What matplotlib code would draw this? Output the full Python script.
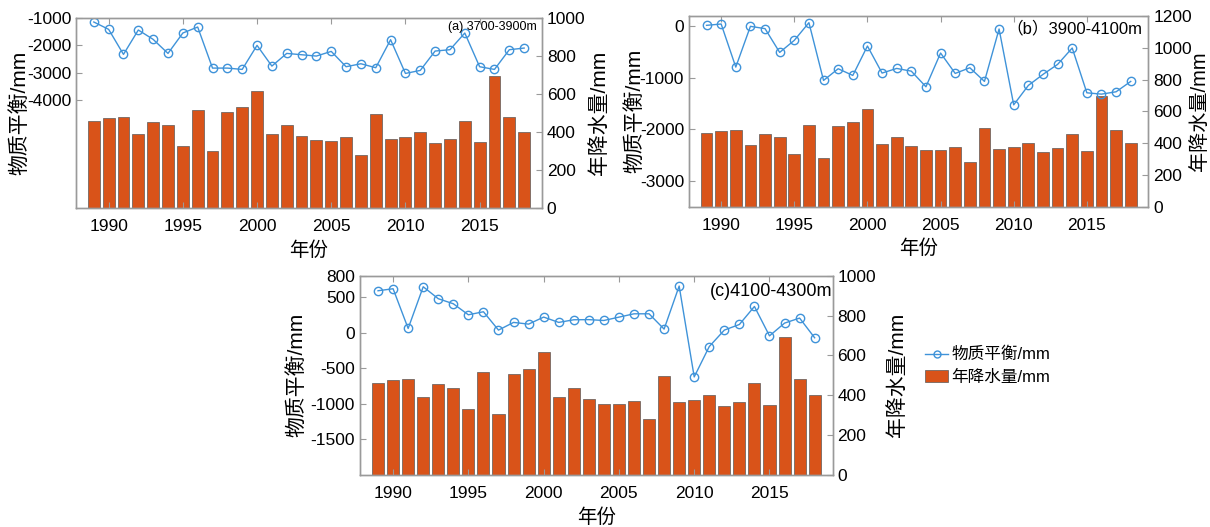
import matplotlib
matplotlib.use("Agg")
import matplotlib.pyplot as plt
from matplotlib.lines import Line2D
from matplotlib.patches import Patch

plt.rcParams['font.family'] = ['Liberation Sans', 'Noto Sans CJK SC', 'DejaVu Sans']
plt.rcParams['axes.unicode_minus'] = False

years = list(range(1989, 2019))

# annual precipitation (mm)
precip = [461, 477, 482, 389, 456, 436, 329, 517, 304, 508,
          531, 617, 393, 439, 380, 357, 356, 373, 281, 495,
          365, 377, 401, 344, 367, 460, 349, 694, 481, 401]

# mass balance (mm) for each elevation band
mb_a = [-1135, -1406, -2328, -1430, -1775, -2292, -1541, -1320, -2833, -2833,
        -2882, -1996, -2759, -2292, -2341, -2390, -2218, -2783, -2673, -2820,
        -1787, -3030, -2919, -2205, -2156, -1541, -2783, -2882, -2156, -2095]
mb_b = [19, 45, -791, 0, -45, -506, -272, 71, -1050, -823,
        -953, -382, -907, -817, -870, -1173, -518, -914, -804, -1069,
        -52, -1523, -1147, -933, -739, -421, -1290, -1316, -1270, -1069]
mb_c = [589, 617, 59, 645, 477, 406, 251, 294, 36, 144,
        120, 219, 144, 181, 183, 171, 218, 265, 265, 50,
        655, -622, -195, 36, 115, 368, -45, 134, 205, -72]

labels_a = "(a) 3700-3900m"
labels_b = "（b）3900-4100m"
labels_c = "(c)4100-4300m"

xticks = [1990, 1995, 2000, 2005, 2010, 2015]

BAR = '#d95319'
LINE = '#3f93d9'
SPINE = '#9a9a9a'

fig = plt.figure(figsize=(12.10, 5.27), dpi=100)


def panel(rect, mb, ylim_l, yticks_l, ylim_r, yticks_r, label, lab_xy, lab_fs,
          lpad=-3, rpad=-3, right_label=True):
    ax = fig.add_axes(rect)
    ax2 = ax.twinx()
    ax2.bar(years, precip, width=0.8, color=BAR, edgecolor='#5a5a5a', linewidth=0.5)
    ax.plot(years, mb, '-o', color=LINE, lw=1.0, ms=6, mfc='none', mec=LINE, mew=1.0)
    ax.set_zorder(ax2.get_zorder() + 1)
    ax.patch.set_visible(False)

    ax.set_xlim(1987.8, 2019.2)
    ax.set_xticks(xticks)
    ax.set_ylim(*ylim_l)
    ax.set_yticks(yticks_l)
    ax2.set_ylim(*ylim_r)
    ax2.set_yticks(yticks_r)

    for a in (ax, ax2):
        for s in a.spines.values():
            s.set_color(SPINE)
            s.set_linewidth(1.0)
    ax.tick_params(axis='x', direction='in', top=True, length=4, color=SPINE,
                   labelsize=12.5, pad=8)
    ax.tick_params(axis='y', direction='in', length=4, color=SPINE, labelsize=12.5)
    ax2.tick_params(axis='y', direction='in', length=4, color=SPINE, labelsize=12.5)

    ax.set_xlabel('年份', fontsize=14, labelpad=5)
    ax.set_ylabel('物质平衡/mm', fontsize=15, labelpad=lpad)
    if right_label:
        ax2.set_ylabel('年降水量/mm', fontsize=15, labelpad=rpad)
    ax.text(lab_xy[0], lab_xy[1], label, transform=ax.transAxes, ha='right',
            va='center', fontsize=lab_fs, clip_on=False)
    return ax


panel([0.0628, 0.6047, 0.3851, 0.3605], mb_a, (-8000, -1000),
      [-4000, -3000, -2000, -1000], (0, 1000), range(0, 1001, 200),
      labels_a, (0.989, 0.954), 9, lpad=-2, rpad=3)
ax_b = panel([0.5694, 0.6078, 0.3796, 0.3618], mb_b, (-3500, 200),
             [-3000, -2000, -1000, 0], (0, 1200), range(0, 1201, 200),
             labels_b, (0.988, 0.937), 12, lpad=-3, right_label=False)
panel([0.2975, 0.0987, 0.3907, 0.3781], mb_c, (-2000, 800),
      [-1500, -1000, -500, 0, 500, 800], (0, 1000), range(0, 1001, 200),
      labels_c, (1.0, 0.923), 13, lpad=3, rpad=8)

# right-hand label of panel (b) sits against the figure edge
fig.text(1199 / 1210, ax_b.get_position().y0 + ax_b.get_position().height / 2,
         '年降水量/mm', rotation=90, ha='center', va='center', fontsize=14.5)

handles = [Line2D([], [], color=LINE, lw=1.0, marker='o', ms=5, mfc='none', mec=LINE),
           Patch(facecolor=BAR, edgecolor='#5a5a5a', linewidth=0.5)]
fig.legend(handles, ['物质平衡/mm', '年降水量/mm'], loc='upper left',
           bbox_to_anchor=(925 / 1210, 1 - 347 / 527), frameon=False,
           fontsize=12, handlelength=1.4, handletextpad=0.2, labelspacing=0.45,
           borderaxespad=0, borderpad=0)

fig.savefig('out.png', dpi=100)
